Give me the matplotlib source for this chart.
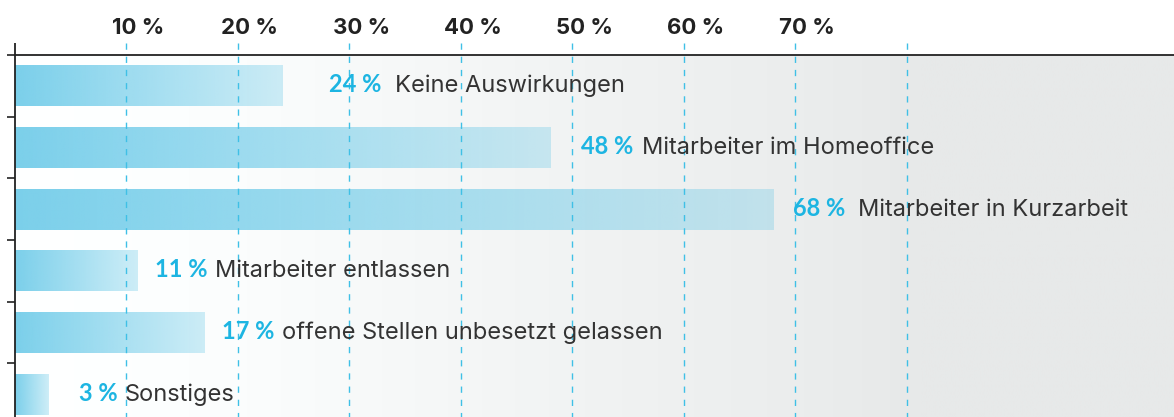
import numpy as np
import matplotlib
matplotlib.use("Agg")
import matplotlib.pyplot as plt
from matplotlib.colors import to_rgb

# ---------------- data ----------------
categories = ["Keine Auswirkungen", "Mitarbeiter im Homeoffice", "Mitarbeiter in Kurzarbeit",
              "Mitarbeiter entlassen", "offene Stellen unbesetzt gelassen", "Sonstiges"]
values = [24, 48, 68, 11, 17, 3]
tick_values = [10, 20, 30, 40, 50, 60, 70]
grid_values = [10, 20, 30, 40, 50, 60, 70, 80]

# ---------------- layout / style ----------------
label_pad = [4.2, 2.8, 1.8, 1.6, 1.6, 2.8]      # gap bar end -> percent label (x units)
name_pad = [10.1, 8.23, 7.63, 6.42, 6.54, 6.86]  # gap bar end -> category text (x units)
MIN_GAP_PX = 7
PX = 0.72                                        # points per pixel at dpi 100
NAME_FONT = ["Inter", "DejaVu Sans"]
PCT_FONT = ["Lato", "DejaVu Sans"]
CYAN = "#1db5e2"
DARK = "#333333"
BAR_BASE = np.array(to_rgb("#5ec5e6"))

W, H = 1174, 417
fig = plt.figure(figsize=(W / 100, H / 100), dpi=100)
fig.patch.set_facecolor("white")
left_px, top_px = 14.8, 55
ax = fig.add_axes([left_px / W, 0, 1 - left_px / W, 1 - top_px / H])
band = 61.66
ylim_bottom = -0.5 + (H - top_px) / band
ax.set_xlim(0, (W - left_px) / 11.149)
ax.set_ylim(ylim_bottom, -0.5)
ax.patch.set_visible(False)

# background gradient (white -> light grey)
t = np.linspace(0, 1, 600)
anch_t = [0.0, 0.2, 0.46, 0.68, 0.78, 1.0]
anch_v = [255, 251, 242, 235, 231, 231]
g = np.interp(t, anch_t, anch_v) / 255.0
bg = np.zeros((1, t.size, 3))
bg[0, :, 0] = g
bg[0, :, 1] = np.minimum(1, g + 2 / 255)
bg[0, :, 2] = np.minimum(1, g + 2 / 255)
ax.imshow(bg, extent=(0, 1, 0, 1), transform=ax.transAxes, aspect="auto", zorder=0)

# bars
ypos = np.arange(len(values))
bars = ax.barh(ypos, values, height=0.667, color="none", edgecolor="none", zorder=2)
for b in bars:
    x0, y0, w, h = b.get_x(), b.get_y(), b.get_width(), b.get_height()
    n = 256
    tt = np.linspace(0, 1, n)
    alpha = 0.82 - 0.52 * tt
    img = np.zeros((1, n, 4))
    img[0, :, :3] = BAR_BASE
    img[0, :, 3] = alpha
    im = ax.imshow(img, extent=(x0, x0 + w, y0 + h, y0), aspect="auto", zorder=2,
                   interpolation="bilinear")
    im.set_clip_path(b)

# dashed vertical grid lines (extend slightly above the top line)
ext = 12 / band
ax.vlines(grid_values, -0.5 - ext, ylim_bottom, colors="#3fc0e6", linewidth=1.0,
          linestyles=(0, (4.5, 5)), zorder=3, clip_on=False)

# spines / ticks
for s in ["right", "bottom"]:
    ax.spines[s].set_visible(False)
ax.spines["top"].set_linewidth(1.3)
ax.spines["top"].set_color("#222222")
ax.spines["left"].set_visible(False)
ax.plot([0, 0], [-0.5 - ext, ylim_bottom], color="#222222", lw=1.3,
        clip_on=False, zorder=5, solid_capstyle="butt")
ax.set_xticks([])
ax.set_yticks(np.arange(-0.5, len(values) - 1, 1.0))
ax.set_yticklabels([])
ax.set_ylim(ylim_bottom, -0.5)
ax.tick_params(axis="y", length=8 * PX, width=1.2, color="#222222", direction="out")

# top tick labels
for v in tick_values:
    ax.annotate(f"{v} %", xy=(v, 1), xycoords=("data", "axes fraction"),
                xytext=(12 * PX, 20.7 * PX), textcoords="offset points",
                ha="center", va="baseline", fontsize=16, fontweight="bold",
                color="#222222", family=NAME_FONT, annotation_clip=False)

# value + category labels
fig.canvas.draw()
renderer = fig.canvas.get_renderer()
for i, (v, name) in enumerate(zip(values, categories)):
    pct = ax.annotate(f"{v} %", xy=(v + label_pad[i], i), xycoords="data",
                      xytext=(0, -6.5 * PX), textcoords="offset points",
                      ha="left", va="baseline", fontsize=17, fontweight="bold",
                      color=CYAN, family=PCT_FONT, zorder=6)
    pct_end = pct.get_window_extent(renderer).x1
    target = ax.transData.transform((v + name_pad[i], i))[0]
    shift_px = max(0.0, pct_end + MIN_GAP_PX - target)
    ax.annotate(name, xy=(v + name_pad[i], i), xycoords="data",
                xytext=(shift_px * PX, -6.5 * PX), textcoords="offset points",
                ha="left", va="baseline", fontsize=17, color=DARK,
                family=NAME_FONT, zorder=6)

fig.savefig("out.png", dpi=100, facecolor="white")
